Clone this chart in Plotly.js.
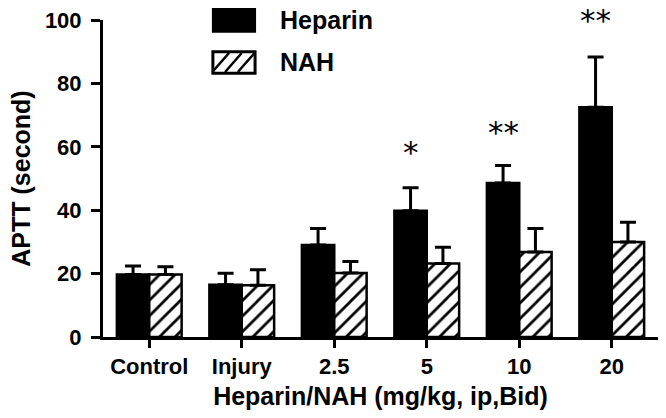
<!DOCTYPE html>
<html>
<head>
<meta charset="utf-8">
<script src="https://cdn.plot.ly/plotly-3.0.1.min.js"></script>
<style>
  body { margin: 0; background: #fff; }
  #root { width: 666px; height: 418px; }
</style>
</head>
<body>
<div id="root"></div>
<script>
// groups on the x axis
var doses = ['Control', 'Injury', '2.5', '5', '10', '20'];

// APTT means (seconds) and upper error (SD)
var heparinMean = [19.7, 16.5, 29.0, 39.8, 48.6, 72.5];
var heparinErr = [2.7, 3.6, 5.2, 7.3, 5.5, 15.8];
var nahMean = [19.7, 16.3, 20.2, 23.2, 26.8, 30.0];
var nahErr = [2.5, 4.9, 3.6, 5.1, 7.4, 6.2];

// significance marks above heparin bars
// (the last one sits just over the top of the axis, so it is pinned to 100 and nudged)
var starDoses = ['5', '10', '20'];
var starText = ['*', '**', '**'];
var starY = [60, 66.2, 100];
var starNudge = [-5, -5, 0];

var FONT = 'Arial, "Liberation Sans", sans-serif';

function zeros(arr) {
    return arr.map(function () { return 0; });
}

function buildChart() {

    var heparin = {
        x: doses,
        y: heparinMean,
        type: 'bar',
        name: 'Heparin',
        marker: {color: '#000', line: {color: '#000', width: 2.5}},
        error_y: {
            type: 'data', symmetric: false,
            array: heparinErr, arrayminus: zeros(heparinErr),
            color: '#000', thickness: 3, width: 8
        }
    };

    var nah = {
        x: doses,
        y: nahMean,
        type: 'bar',
        name: 'NAH',
        marker: {
            color: '#fff',
            line: {color: '#000', width: 2.5},
            pattern: {shape: '/', fgcolor: '#000', bgcolor: '#fff', size: 11, solidity: 0.25}
        },
        error_y: {
            type: 'data', symmetric: false,
            array: nahErr, arrayminus: zeros(nahErr),
            color: '#000', thickness: 3, width: 8
        }
    };

    // stars sit over the heparin bar of each group
    // (category index, the labels look like numbers to plotly)
    var stars = starDoses.map(function (d, i) {
        return {
            x: doses.indexOf(d), y: starY[i], xref: 'x', yref: 'y',
            text: starText[i], showarrow: false, xshift: -16,
            yshift: starNudge[i], yanchor: 'middle',
            font: {family: '"DejaVu Sans", sans-serif', size: 31, color: '#000'}
        };
    });

    // hand made legend, the boxes in the original are large
    var legendText = [
        {x: 0.316, y: 1.0, text: 'Heparin'},
        {x: 0.316, y: 0.867, text: 'NAH'}
    ].map(function (t) {
        return {
            x: t.x, y: t.y, xref: 'paper', yref: 'paper', text: t.text,
            showarrow: false, xanchor: 'left', yanchor: 'middle',
            font: {family: FONT, size: 25, weight: 700, color: '#000'}
        };
    });

    var shapes = [
        {type: 'rect', xref: 'paper', yref: 'paper', x0: 0.198, x1: 0.274, y0: 0.963, y1: 1.035,
            fillcolor: '#000', line: {color: '#000', width: 2}},
        {type: 'rect', xref: 'paper', yref: 'paper', x0: 0.198, x1: 0.274, y0: 0.832, y1: 0.900,
            fillcolor: '#fff', line: {color: '#000', width: 3}}
    ];
    // hatch lines inside the NAH legend box
    [0.215, 0.238, 0.261].forEach(function (xs) {
        shapes.push({type: 'line', xref: 'paper', yref: 'paper',
            x0: xs - 0.018, x1: xs + 0.012, y0: 0.836, y1: 0.896,
            line: {color: '#000', width: 2.5}});
    });

    var layout = {
        width: 666,
        height: 418,
        margin: {l: 103, r: 8, t: 20, b: 81},
        paper_bgcolor: '#fff',
        plot_bgcolor: '#fff',
        showlegend: false,
        barmode: 'group',
        bargap: 0.3,
        bargroupgap: 0,
        font: {family: FONT, color: '#000'},
        xaxis: {
            type: 'category',
            range: [-0.5, 5.5],
            showline: true, linecolor: '#000', linewidth: 3,
            ticks: 'outside', ticklen: 8, tickwidth: 3, tickcolor: '#000',
            tickangle: 0,
            tickfont: {family: FONT, size: 22, weight: 700},
            title: {text: 'Heparin/NAH (mg/kg, ip,Bid)', standoff: 10,
                font: {family: FONT, size: 25, weight: 700}},
            showgrid: false
        },
        yaxis: {
            range: [0, 100], dtick: 20,
            showline: true, linecolor: '#000', linewidth: 3,
            ticks: 'outside', ticklen: 9, tickwidth: 3, tickcolor: '#000',
            ticklabelstandoff: 5,
            tickfont: {family: FONT, size: 22, weight: 700},
            title: {text: 'APTT (second)', standoff: 8,
                font: {family: FONT, size: 25, weight: 700}},
            showgrid: false, zeroline: false
        },
        annotations: stars.concat(legendText),
        shapes: shapes
    };

    Plotly.newPlot('root', [heparin, nah], layout, {staticPlot: true});
}

buildChart();
</script>
</body>
</html>
